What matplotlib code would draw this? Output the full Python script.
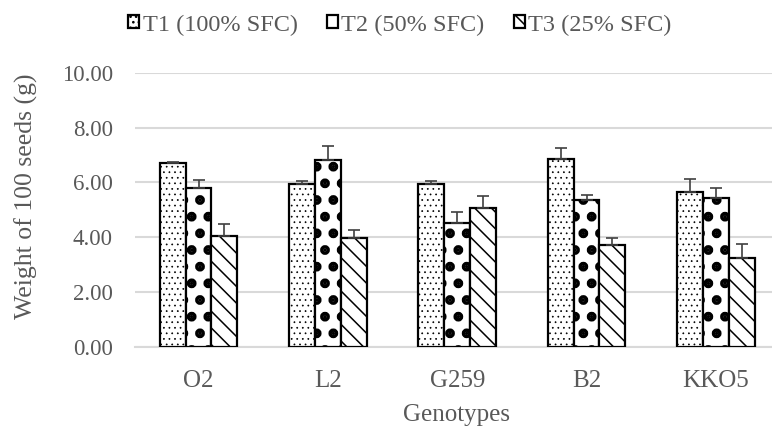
import matplotlib
matplotlib.use("Agg")
import matplotlib.pyplot as plt
import numpy as np

categories = ["O2", "L2", "G259", "B2", "KKO5"]
series_names = ["T1 (100% SFC)", "T2 (50% SFC)", "T3 (25% SFC)"]
t1_values = [6.70, 5.93, 5.93, 6.85, 5.65]
t2_values = [5.81, 6.83, 4.53, 5.36, 5.44]
t3_values = [4.04, 3.98, 5.08, 3.73, 3.24]
t1_err = [0.03, 0.12, 0.12, 0.40, 0.48]
t2_err = [0.28, 0.50, 0.40, 0.20, 0.37]
t3_err = [0.46, 0.28, 0.42, 0.25, 0.53]
y_ticks = [0, 2, 4, 6, 8, 10]
y_tick_labels = ["0.00", "2.00", "4.00", "6.00", "8.00", "10.00"]

plt.rcParams['font.family'] = ['Liberation Serif', 'DejaVu Serif']
text_color = "#595959"

fig = plt.figure(figsize=(7.72, 4.28), dpi=100)
ax_left, ax_right, ax_top, ax_bottom = 135, 772, 73, 346.7
ax = fig.add_axes([ax_left/772, (428-ax_bottom)/428, (ax_right-ax_left)/772, (ax_bottom-ax_top)/428])

x = np.arange(len(categories))
w = 0.2
hatches = ["...", ".", "\\\\"]
hlw = [0.5, 4.6, 1.1]
vals = [t1_values, t2_values, t3_values]
errs = [t1_err, t2_err, t3_err]
handles = []
for i in range(3):
    plt.rcParams['hatch.linewidth'] = hlw[i]
    bars = ax.bar(x + (i - 1) * w, vals[i], width=w, facecolor="white",
                  edgecolor="black", hatch=hatches[i], linewidth=1.6, zorder=3,
                  label=series_names[i])
    ax.errorbar(x + (i - 1) * w, vals[i], yerr=[np.zeros(len(categories)), errs[i]],
                fmt="none", ecolor="#404040", elinewidth=1.2, capsize=4,
                capthick=1.2, zorder=4)
    handles.append(bars)

ax.set_xlim((ax_left - 198.5) / 129.35, (ax_right - 198.5) / 129.35)
ax.set_ylim(0, 10)
ax.set_yticks(y_ticks)
ax.set_yticklabels(y_tick_labels, fontsize=16.5, color=text_color)
ax.set_xticks(x)
ax.set_xticklabels(categories, fontsize=18, color=text_color)
ax.tick_params(axis="both", length=0)
ax.tick_params(axis="y", pad=16)
ax.tick_params(axis="x", pad=17)
ax.yaxis.grid(True, color="#d9d9d9", linewidth=1.5, zorder=0)
ax.set_axisbelow(True)
for s in ["top", "right", "left"]:
    ax.spines[s].set_visible(False)
ax.spines["bottom"].set_color("#d9d9d9")
ax.spines["bottom"].set_linewidth(1.5)

ax.set_ylabel("Weight of 100 seeds (g)", fontsize=18.5, color=text_color)
ax.set_xlabel("Genotypes", fontsize=18, color=text_color)
ax.yaxis.set_label_coords(-(ax_left - 38) / (ax_right - ax_left), (ax_bottom - 196) / (ax_bottom - ax_top))
ax.xaxis.set_label_coords((457 - ax_left) / (ax_right - ax_left), -(404 - ax_bottom) / (ax_bottom - ax_top))

leg = fig.legend(handles=handles, labels=series_names, loc="center",
                 bbox_to_anchor=(400 / 772, 1 - 25 / 428), ncol=3, frameon=False,
                 fontsize=17.5, handlelength=0.45, handleheight=0.45,
                 handletextpad=0.15, columnspacing=1.2)
for t in leg.get_texts():
    t.set_color(text_color)

fig.savefig("out.png", dpi=100)
